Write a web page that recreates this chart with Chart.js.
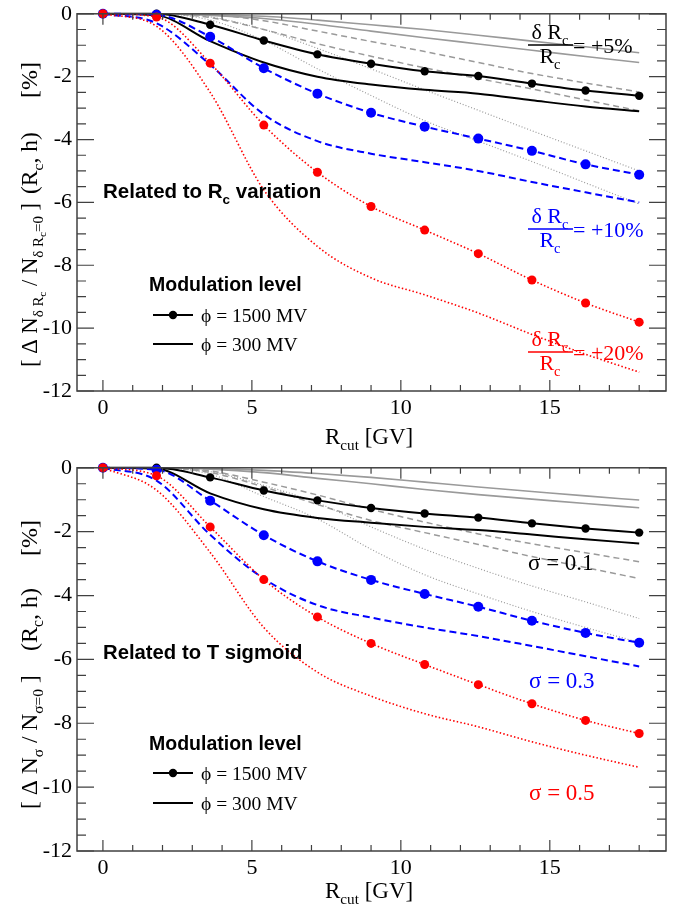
<!DOCTYPE html>
<html>
<head>
<meta charset="utf-8">
<script src="https://cdn.jsdelivr.net/npm/chart.js@4.4.1/dist/chart.umd.min.js"></script>
<style>
  html, body { margin: 0; padding: 0; background: #fff; }
  #wrap { position: relative; width: 688px; height: 907px; }
  canvas { position: absolute; left: 0; }
</style>
</head>
<body>
<div id="wrap">
  <canvas id="rcChart" width="688" height="454" style="top:0"></canvas>
  <canvas id="sigChart" width="688" height="453" style="top:454px"></canvas>
</div>
<script>
// cutoff rigidity grid [GV]
const rcut = [0, 1.8, 3.6, 5.4, 7.2, 9.0, 10.8, 12.6, 14.4, 16.2, 18.0];

// top panel: related to Rc variation (+5% black, +10% blue, +20% red)
const rcBlack1500 = [0, 0, -0.35, -0.85, -1.29, -1.59, -1.83, -1.98, -2.22, -2.44, -2.61];
const rcBlack300  = [0, -0.05, -0.87, -1.55, -2.0, -2.25, -2.42, -2.54, -2.75, -2.95, -3.1];
const rcBlue1500  = [0, -0.03, -0.73, -1.73, -2.54, -3.15, -3.59, -3.97, -4.36, -4.79, -5.12];
const rcBlue300   = [0, -0.3, -1.62, -3.2, -4.05, -4.45, -4.72, -5.0, -5.35, -5.68, -6.0];
const rcRed1500   = [0, -0.1, -1.57, -3.54, -5.04, -6.13, -6.88, -7.63, -8.47, -9.2, -9.81];
const rcRed300    = [0, -0.4, -2.5, -5.6, -7.4, -8.4, -8.94, -9.52, -10.2, -10.83, -11.4];
const rcGraySolidA = [0, 0, -0.03, -0.08, -0.2, -0.35, -0.5, -0.68, -0.87, -1.05, -1.24];
const rcGraySolidB = [0, 0, -0.05, -0.15, -0.33, -0.55, -0.76, -0.96, -1.16, -1.36, -1.55];
const rcGrayDashA  = [0, 0, -0.03, -0.22, -0.55, -0.88, -1.2, -1.55, -1.9, -2.2, -2.49];
const rcGrayDashB  = [0, 0, -0.12, -0.5, -0.95, -1.35, -1.72, -2.06, -2.39, -2.74, -3.09];
const rcGrayDotA   = [0, 0, -0.1, -0.5, -1.1, -1.75, -2.42, -3.07, -3.72, -4.36, -5.0];
const rcGrayDotB   = [0, 0, -0.2, -0.85, -1.75, -2.6, -3.4, -4.05, -4.7, -5.38, -6.05];

// bottom panel: related to T sigmoid (sigma 0.1 black, 0.3 blue, 0.5 red)
const sgBlack1500 = [0, 0, -0.3, -0.71, -1.02, -1.26, -1.43, -1.56, -1.74, -1.9, -2.03];
const sgBlack300  = [0, -0.03, -0.8, -1.3, -1.57, -1.72, -1.85, -1.95, -2.09, -2.24, -2.37];
const sgBlue1500  = [0, -0.06, -1.03, -2.11, -2.93, -3.51, -3.95, -4.35, -4.79, -5.17, -5.48];
const sgBlue300   = [0, -0.4, -2.1, -3.47, -4.3, -4.69, -5.0, -5.27, -5.58, -5.9, -6.22];
const sgRed1500   = [0, -0.25, -1.85, -3.5, -4.67, -5.5, -6.16, -6.79, -7.39, -7.91, -8.32];
const sgRed300    = [0, -0.7, -2.65, -5.0, -6.4, -7.15, -7.7, -8.11, -8.58, -9.0, -9.38];
const sgGraySolidA = [0, 0, -0.02, -0.08, -0.18, -0.3, -0.45, -0.6, -0.74, -0.88, -1.01];
const sgGraySolidB = [0, 0, -0.04, -0.15, -0.33, -0.5, -0.68, -0.84, -0.98, -1.12, -1.25];
const sgGrayDashA  = [0, 0, -0.1, -0.45, -0.85, -1.3, -1.7, -2.07, -2.38, -2.66, -2.94];
const sgGrayDashB  = [0, 0, -0.15, -0.6, -1.15, -1.65, -2.03, -2.4, -2.78, -3.12, -3.47];
const sgGrayDotA   = [0, 0, -0.12, -0.55, -1.1, -1.85, -2.55, -3.15, -3.7, -4.2, -4.72];
const sgGrayDotB   = [0, 0, -0.2, -0.9, -1.6, -2.55, -3.35, -3.95, -4.5, -5.0, -5.47];

const xTicks = [0, 5, 10, 15];
const yTicks = [0, -2, -4, -6, -8, -10, -12];

const SERIF = '"Liberation Serif", "Times New Roman", serif';
const SANS = '"Liberation Sans", Arial, sans-serif';
const GRAY = '#9a9a9a';

const pts = arr => rcut.map((x, i) => ({ x, y: arr[i] }));

function withMarkers(arr, color, r) {
  return { data: pts(arr), borderColor: color, backgroundColor: color, pointRadius: r,
           pointBorderWidth: 0, pointBackgroundColor: color, clip: false };
}
function noMarkers(arr, color) {
  return { data: pts(arr), borderColor: color, pointRadius: 0 };
}

function buildSets(s) {
  const solid = { borderWidth: 2, borderDash: [] };
  const dash = { borderWidth: 2, borderDash: [7, 4] };
  const dot = { borderWidth: 1.6, borderDash: [1.5, 2.2] };
  return [
    { ...withMarkers(s.red1500, '#ff0000', 4.5), ...dot },
    { ...noMarkers(s.red300, '#ff0000'), ...dot },
    { ...withMarkers(s.blue1500, '#0000ff', 5), ...dash },
    { ...noMarkers(s.blue300, '#0000ff'), ...dash },
    { ...withMarkers(s.black1500, '#000000', 4.2), ...solid },
    { ...noMarkers(s.black300, '#000000'), ...solid },
    { ...noMarkers(s.gsA, GRAY), borderWidth: 1.6 },
    { ...noMarkers(s.gsB, GRAY), borderWidth: 1.6 },
    { ...noMarkers(s.gdA, GRAY), borderWidth: 1.5, borderDash: [6, 4] },
    { ...noMarkers(s.gdB, GRAY), borderWidth: 1.5, borderDash: [6, 4] },
    { ...noMarkers(s.gtA, GRAY), borderWidth: 1.2, borderDash: [1, 2] },
    { ...noMarkers(s.gtB, GRAY), borderWidth: 1.2, borderDash: [1, 2] }
  ];
}

// rich text with sub/sub-sub levels
function drawRich(ctx, x, y, parts, size, color, family, weight) {
  let cx = x;
  for (const [t, lvl] of parts) {
    const s = lvl === 0 ? size : lvl === 1 ? size * 0.66 : size * 0.5;
    const dy = lvl === 0 ? 0 : lvl === 1 ? size * 0.27 : size * 0.42;
    ctx.font = `${weight || 'normal'} ${s}px ${family || SERIF}`;
    ctx.fillStyle = color;
    ctx.fillText(t, cx, y + dy);
    cx += ctx.measureText(t).width;
  }
  return cx - x;
}
function richWidth(ctx, parts, size, family, weight) {
  let w = 0;
  for (const [t, lvl] of parts) {
    const s = lvl === 0 ? size : lvl === 1 ? size * 0.66 : size * 0.5;
    ctx.font = `${weight || 'normal'} ${s}px ${family || SERIF}`;
    w += ctx.measureText(t).width;
  }
  return w;
}
function drawUp(ctx, x, y, parts, size) {
  ctx.save();
  ctx.translate(x, y);
  ctx.rotate(-Math.PI / 2);
  drawRich(ctx, 0, 0, parts, size, '#000');
  ctx.restore();
}
function fraction(ctx, cx, barY, color, rhs) {
  const num = [['δ R', 0], ['c', 1]];
  const den = [['R', 0], ['c', 1]];
  const size = 22;
  drawRich(ctx, cx - richWidth(ctx, num, size) / 2, barY - 6, num, size, color);
  drawRich(ctx, cx - richWidth(ctx, den, size) / 2, barY + 18, den, size, color);
  ctx.strokeStyle = color;
  ctx.lineWidth = 1.5;
  ctx.beginPath();
  ctx.moveTo(cx - 22, barY);
  ctx.lineTo(cx + 23, barY);
  ctx.stroke();
  drawRich(ctx, cx + 23, barY + 8, [[rhs, 0]], size, color);
}
function legendRow(ctx, y, marker, label) {
  ctx.strokeStyle = '#000';
  ctx.lineWidth = 2;
  ctx.setLineDash([]);
  ctx.beginPath();
  ctx.moveTo(153, y);
  ctx.lineTo(193, y);
  ctx.stroke();
  if (marker) {
    ctx.fillStyle = '#000';
    ctx.beginPath();
    ctx.arc(173, y, 4.2, 0, Math.PI * 2);
    ctx.fill();
  }
  drawRich(ctx, 201, y + 7, [[label, 0]], 19.5, '#000');
}

// ROOT-like frame with inward ticks on all four sides
const framePlugin = {
  id: 'frame',
  afterDatasetsDraw(chart) {
    const { ctx, chartArea: a, scales: { x, y } } = chart;
    ctx.save();
    ctx.setLineDash([]);
    ctx.strokeStyle = '#404040';
    ctx.lineWidth = 1.5;
    ctx.strokeRect(a.left, a.top, a.right - a.left, a.bottom - a.top);
    ctx.lineWidth = 1.2;
    ctx.beginPath();
    for (let v = 0; v <= 18; v++) {
      const px = x.getPixelForValue(v);
      const len = v % 5 === 0 ? 11 : 6;
      ctx.moveTo(px, a.bottom); ctx.lineTo(px, a.bottom - len);
      ctx.moveTo(px, a.top); ctx.lineTo(px, a.top + len);
    }
    for (let v = -12; v <= 0; v += 0.5) {
      const py = y.getPixelForValue(v);
      const len = Math.abs(v % 2) < 1e-9 ? 17 : 9;
      ctx.moveTo(a.left, py); ctx.lineTo(a.left + len, py);
      ctx.moveTo(a.right, py); ctx.lineTo(a.right - len, py);
    }
    ctx.stroke();
    ctx.restore();
  }
};

function makeChart(id, sets, padTop, xHeight, texts) {
  return new Chart(document.getElementById(id), {
    type: 'line',
    data: { datasets: buildSets(sets) },
    options: {
      responsive: false,
      animation: false,
      devicePixelRatio: 1,
      events: [],
      layout: { padding: { left: 0, right: 22, top: padTop, bottom: 0 } },
      elements: { line: { cubicInterpolationMode: 'monotone', fill: false } },
      plugins: { legend: { display: false }, tooltip: { enabled: false } },
      scales: {
        x: {
          type: 'linear', min: -0.87, max: 18.9,
          grid: { display: false, drawTicks: false },
          border: { display: false },
          afterBuildTicks: s => { s.ticks = xTicks.map(v => ({ value: v })); },
          afterFit: s => { s.height = xHeight; },
          ticks: {
            padding: 4, color: '#000', maxRotation: 0, autoSkip: false,
            font: { family: SERIF, size: 22, lineHeight: 1.2 },
            callback: v => String(v)
          }
        },
        y: {
          type: 'linear', min: -12, max: 0,
          grid: { display: false, drawTicks: false },
          border: { display: false },
          afterBuildTicks: s => { s.ticks = yTicks.map(v => ({ value: v })); },
          afterFit: s => { s.width = 77; },
          ticks: {
            padding: 5, color: '#000',
            font: { family: SERIF, size: 22, lineHeight: 0.8 },
            callback: v => String(v)
          }
        }
      }
    },
    plugins: [framePlugin, { id: 'texts', afterDraw: c => texts(c.ctx) }]
  });
}

function xTitle(ctx) {
  drawRich(ctx, 325, 444, [['R', 0], ['cut', 1], [' [GV]', 0]], 23, '#000');
}

makeChart('rcChart', {
  red1500: rcRed1500, red300: rcRed300, blue1500: rcBlue1500, blue300: rcBlue300,
  black1500: rcBlack1500, black300: rcBlack300,
  gsA: rcGraySolidA, gsB: rcGraySolidB, gdA: rcGrayDashA, gdB: rcGrayDashB, gtA: rcGrayDotA, gtB: rcGrayDotB
}, 9, 63, ctx => {
  ctx.save();
  fraction(ctx, 550, 45, '#000000', '= +5%');
  fraction(ctx, 550, 229, '#0000ff', '= +10%');
  fraction(ctx, 550, 352, '#ff0000', '= +20%');
  drawRich(ctx, 103, 198, [['Related to R', 0], ['c', 1], [' variation', 0]], 20.5, '#000', SANS, 'bold');
  drawRich(ctx, 149, 291, [['Modulation level', 0]], 19.5, '#000', SANS, 'bold');
  legendRow(ctx, 315, true, 'ϕ = 1500 MV');
  legendRow(ctx, 344, false, 'ϕ = 300 MV');
  xTitle(ctx);
  drawUp(ctx, 37, 367, [['[ Δ N', 0], ['δ R', 1], ['c', 2], [' / N', 0], ['δ R', 1], ['c', 2], ['=0', 1], [' ]', 0]], 22.6);
  drawUp(ctx, 37, 194, [['(R', 0], ['c', 1], [', h)', 0]], 23.5);
  drawUp(ctx, 37, 98, [['[%]', 0]], 24);
  ctx.restore();
});

makeChart('sigChart', {
  red1500: sgRed1500, red300: sgRed300, blue1500: sgBlue1500, blue300: sgBlue300,
  black1500: sgBlack1500, black300: sgBlack300,
  gsA: sgGraySolidA, gsB: sgGraySolidB, gdA: sgGrayDashA, gdB: sgGrayDashB, gtA: sgGrayDotA, gtB: sgGrayDotB
}, 13, 56, ctx => {
  ctx.save();
  drawRich(ctx, 528, 116, [['σ = 0.1', 0]], 23, '#000000');
  drawRich(ctx, 529, 234, [['σ = 0.3', 0]], 23, '#0000ff');
  drawRich(ctx, 529, 346, [['σ = 0.5', 0]], 23, '#ff0000');
  drawRich(ctx, 103, 205, [['Related to T sigmoid', 0]], 20.3, '#000', SANS, 'bold');
  drawRich(ctx, 149, 296, [['Modulation level', 0]], 19.5, '#000', SANS, 'bold');
  legendRow(ctx, 319, true, 'ϕ = 1500 MV');
  legendRow(ctx, 349, false, 'ϕ = 300 MV');
  xTitle(ctx);
  drawUp(ctx, 37, 355, [['[ Δ N', 0], ['σ', 1], [' / N', 0], ['σ=0', 1], [' ]', 0]], 23.5);
  drawUp(ctx, 37, 197, [['(R', 0], ['c', 1], [', h)', 0]], 24);
  drawUp(ctx, 37, 102, [['[%]', 0]], 24);
  ctx.restore();
});
</script>
</body>
</html>
